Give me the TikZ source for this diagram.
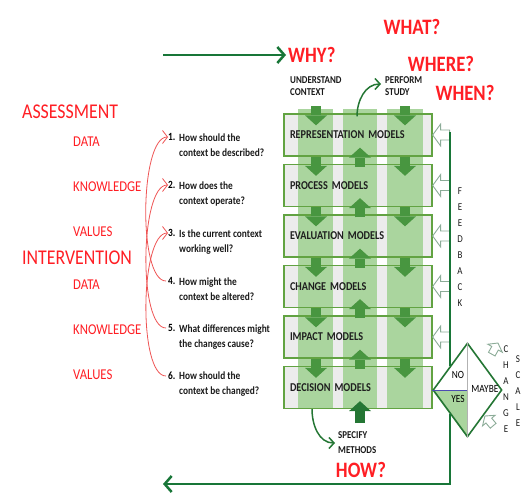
\documentclass[tikz,border=0pt]{standalone}
\usepackage{fontspec}
\setmainfont[FakeStretch=0.85]{Carlito}
\usetikzlibrary{arrows.meta,shapes.geometric,backgrounds,positioning}
\definecolor{colgreen}{RGB}{170,213,158}
\definecolor{boxgreen}{RGB}{98,163,66}
\definecolor{arrgreen}{RGB}{72,150,64}
\definecolor{deepgreen}{RGB}{36,118,52}
\definecolor{linegreen}{RGB}{24,118,56}
\definecolor{boxgray}{RGB}{236,236,236}
\definecolor{fbgray}{RGB}{140,172,152}
\definecolor{qred}{RGB}{255,30,36}
\definecolor{curvered}{RGB}{238,84,84}
\tikzset{
	model/.style={draw=boxgreen, line width=1.3pt, minimum width=148pt,
		minimum height=42pt, inner xsep=6pt, text width=136pt, align=left,
		font=\bfseries\fontsize{12}{12}\selectfont, text=black!88},
	flowarrow/.style={draw=arrgreen, line width=10pt,
		-{Triangle[length=10pt,width=22pt,line width=0pt]}},
	fbarrow/.style={draw=fbgray, fill=white, line width=0.9pt},
	fbshape/.pic={\draw[fbarrow] (0,0) -- (8,11) -- (8,5) -- (17,5) -- (17,-5)
		-- (8,-5) -- (8,-11) -- cycle;},
	decision/.style={diamond, draw=deepgreen, line width=1.6pt, inner sep=0pt,
		minimum width=69pt, minimum height=94pt},
	dlabel/.style={font=\fontsize{11}{11}\selectfont, inner sep=0pt, text=black},
	bigq/.style={text=qred, font=\bfseries\fontsize{22}{22}\selectfont,
		inner sep=0pt},
	headred/.style={text=qred, font=\fontsize{21}{21}\selectfont, inner sep=0pt,
		anchor=west},
	subred/.style={text=qred, font=\fontsize{15}{15}\selectfont, inner sep=0pt,
		anchor=west},
	qnum/.style={font=\bfseries\fontsize{11}{15}\selectfont, inner sep=0pt,
		anchor=west},
	qtext/.style={font=\bfseries\fontsize{11}{15}\selectfont, inner sep=0pt,
		align=left, anchor=north west, text=black!90},
	steptext/.style={font=\bfseries\fontsize{10.5}{12}\selectfont, inner sep=0pt,
		align=left, anchor=west, text=black!90},
	vletters/.style={font=\fontsize{10.5}{16}\selectfont, inner sep=0pt,
		align=center, text=black!90},
	greenline/.style={draw=linegreen, line width=2.5pt,
		-{Straight Barb[length=7pt,width=16pt]}},
	bendarrow/.style={draw=deepgreen, line width=1.5pt,
		-{Straight Barb[length=5pt,width=11pt]}},
	qlink/.style={draw=curvered, line width=0.8pt,
		-{Straight Barb[length=5pt,width=13pt]}}
}

\begin{document}
\begin{tikzpicture}[x=1pt, y=1pt]
	\useasboundingbox (0,0) rectangle (525,-497);

	\node[model] (m1) at (358,-135) {REPRESENTATION MODELS};
	\node[model, below=7.2pt of m1] (m2) {PROCESS MODELS};
	\node[model, below=7.2pt of m2] (m3) {EVALUATION MODELS};
	\node[model, below=7.2pt of m3] (m4) {CHANGE MODELS};
	\node[model, below=7.2pt of m4] (m5) {IMPACT MODELS};
	\node[model, below=7.2pt of m5] (m6) {DECISION MODELS};
	\begin{pgfonlayer}{background}
		\foreach \k in {1,...,6}
			\fill[boxgray] (m\k.north west) rectangle (m\k.south east);
		\foreach \a/\b in {-60/-25,-15/19,29/65}
			\fill[colgreen] ([xshift=\a pt,yshift=4pt]m1.north)
				rectangle ([xshift=\b pt,yshift=0.65pt]m6.south);
	\end{pgfonlayer}

	\foreach \k in {1,...,6}{
		\draw[flowarrow] ([xshift=-42pt,yshift=7pt]m\k.north) -- ([xshift=-42pt,yshift=-12pt]m\k.north);
		\draw[flowarrow] ([xshift=47pt,yshift=7pt]m\k.north) -- ([xshift=47pt,yshift=-12pt]m\k.north);
	}
	\foreach \k [count=\n from 2] in {1,...,5}
		\draw[flowarrow] ([xshift=2pt,yshift=-3pt]m\n.north) -- ([xshift=2pt,yshift=9pt]m\k.south);
	\draw[flowarrow, draw=deepgreen] ([xshift=2pt,yshift=-14pt]m6.south) -- ([xshift=2pt,yshift=8pt]m6.south);

	% feedback and decision
	\node[decision, right=-0.5pt of m6, yshift=-2.5pt] (dm) {};
	\begin{pgfonlayer}{background}
		\fill[colgreen] (dm.west) -- (dm.center) -- (dm.south) -- cycle;
	\end{pgfonlayer}
	\draw[black!30, line width=0.6pt] (dm.north) -- (dm.south);
	\draw[blue!40!gray, line width=0.8pt] (dm.west) -- (dm.center);
	\node[dlabel] (no) at ([shift={(-9.5,15)}]dm.center) {NO};
	\node[dlabel] (yes) at ([shift={(-9.5,-9)}]dm.center) {YES};
	\node[dlabel] (maybe) at ([shift={(17.5,1)}]dm.center) {MAYBE};
	\foreach \k in {1,...,5}
		\pic at (m\k.east) {fbshape};
	\draw[linegreen, line width=1.6pt] (dm.north west) -- ([yshift=3pt]dm.north west |- m1.east);
	\pic[rotate=241, scale=0.75] at ([shift={(30.5,47)}]dm.center) {fbshape};
	\pic[rotate=310, scale=0.75] at ([shift={(17.5,-26)}]dm.center) {fbshape};
	\node[vletters] (feedback) at (460,-247) {F\\E\\E\\D\\B\\A\\C\\K};
	\node[vletters] (change) at (506,-389) {C\\H\\A\\N\\G\\E};
	\node[vletters] (scale) at (518,-391) {S\\C\\A\\L\\E};

	% top and bottom
	\node[bigq] (what) at (412,-27) {WHAT?};
	\node[bigq] (where) at (441,-64) {WHERE?};
	\node[bigq] (when) at (465,-93) {WHEN?};
	\node[bigq, anchor=west] (why) at (288,-55) {WHY?};
	\node[bigq] (how) at (361,-470) {HOW?};
	\coordinate (topstart) at (163,-55);
	\draw[greenline] (topstart) -- ([xshift=-2pt]why.west);
	\node[steptext] (understand) at (290,-86) {UNDERSTAND\\CONTEXT};
	\node[steptext] (perform) at (385,-86) {PERFORM\\STUDY};
	\node[steptext] (specify) at (338,-443) {SPECIFY\\[3pt]METHODS};
	\draw[bendarrow] ([xshift=-1pt,yshift=-3pt]m1.north) to[out=90,in=180] ([xshift=-4pt,yshift=2pt]perform.west);
	\draw[bendarrow] ([xshift=-46pt]m6.south) to[out=-90,in=180] ([xshift=-3pt]specify.west);
	\coordinate (retend) at (163,-484);
	\draw[greenline] (dm.south west) |- (retend);

	% left side
	\node[headred] (assess) at (22,-112) {ASSESSMENT};
	\node[subred] (adata) at (73,-142) {DATA};
	\node[subred] (aknow) at (73,-187) {KNOWLEDGE};
	\node[subred] (avalue) at (73,-232) {VALUES};
	\node[headred] (interv) at (22,-258) {INTERVENTION};
	\node[subred] (idata) at (73,-285) {DATA};
	\node[subred] (iknow) at (73,-330) {KNOWLEDGE};
	\node[subred] (ivalue) at (73,-375) {VALUES};

	\node[qnum] (n1) at (168,-137) {1.};
	\node[qtext] (q1) at ([xshift=11pt]n1.north west) {How should the\\context be described?};
	\node[qnum] (n2) at (168,-185) {2.};
	\node[qtext] (q2) at ([xshift=11pt]n2.north west) {How does the\\context operate?};
	\node[qnum] (n3) at (168,-233) {3.};
	\node[qtext] (q3) at ([xshift=11pt]n3.north west) {Is the current context\\working well?};
	\node[qnum] (n4) at (168,-281) {4.};
	\node[qtext] (q4) at ([xshift=11pt]n4.north west) {How might the\\context be altered?};
	\node[qnum] (n5) at (168,-328) {5.};
	\node[qtext] (q5) at ([xshift=11pt]n5.north west) {What differences might\\the changes cause?};
	\node[qnum] (n6) at (168,-376) {6.};
	\node[qtext] (q6) at ([xshift=11pt]n6.north west) {How should the\\context be changed?};
	\foreach \s/\t in {4/1,5/2,6/3}
		\draw[qlink] ([xshift=-2pt]n\s.west) to[out=180,in=180,looseness=0.5] (n\t.west);
\end{tikzpicture}
\end{document}
